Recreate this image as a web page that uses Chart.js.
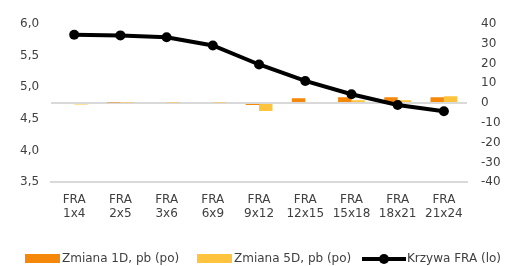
<!DOCTYPE html>
<html>
<head>
<meta charset="utf-8">
<script src="https://cdn.jsdelivr.net/npm/chart.js@4/dist/chart.umd.min.js"></script>
<style>
  html, body { margin: 0; padding: 0; background: #fff; }
  #wrap { position: relative; width: 514px; height: 266px; }
  #legend { position: absolute; left: 0; top: 250px; width: 514px; height: 16px;
    font: 12px 'DejaVu Sans', sans-serif; color: #404040; }
  .item { position: absolute; top: 0; white-space: nowrap; line-height: 16px; }
  .box { display: inline-block; width: 35px; height: 9px; vertical-align: -1px; margin-right: 2px; }
  .ln { display: inline-block; position: relative; width: 44px; height: 9px; vertical-align: -1px; margin-right: 1px; }
  .ln:before { content: ''; position: absolute; left: 0; right: 0; top: 3px; height: 4px; background: #000; }
  .ln:after { content: ''; position: absolute; left: 17px; top: 0; width: 10px; height: 10px; border-radius: 50%; background: #000; }
</style>
</head>
<body>
<div id="wrap">
  <canvas id="fraChart" width="514" height="266"></canvas>
  <div id="legend">
    <span class="item" style="left:25px"><span class="box" style="background:#F5870A"></span>Zmiana 1D, pb (po)</span>
    <span class="item" style="left:197px"><span class="box" style="background:#FFC33D"></span>Zmiana 5D, pb (po)</span>
    <span class="item" style="left:362px"><span class="ln"></span>Krzywa FRA (lo)</span>
  </div>
</div>
<script>
// Dane wykresu
const categories = ['1x4', '2x5', '3x6', '6x9', '9x12', '12x15', '15x18', '18x21', '21x24'];
const change1D = [0.5, 0.3, 0, 0, -1, 2.5, 3, 3, 3];
const change5D = [-0.7, 0.3, 0.3, 0.3, -4, 0.5, 1.5, 1.5, 3.5];
const fraCurve = [5.83, 5.82, 5.79, 5.66, 5.36, 5.10, 4.89, 4.72, 4.62];
const leftTicks = [3.5, 4.0, 4.5, 5.0, 5.5, 6.0];
const rightTicks = [-40, -30, -20, -10, 0, 10, 20, 30, 40];

document.addEventListener('DOMContentLoaded', function() {
  Chart.defaults.font.family = "'DejaVu Sans', sans-serif";
  Chart.defaults.font.size = 12;
  Chart.defaults.color = '#404040';

  const ctx = document.getElementById('fraChart');
  new Chart(ctx, {
    data: {
      labels: categories.map(c => ['FRA', c]),
      datasets: [
        {
          type: 'line',
          label: 'Krzywa FRA (lo)',
          data: fraCurve,
          yAxisID: 'y',
          borderColor: '#000',
          backgroundColor: '#000',
          borderWidth: 4,
          pointRadius: 5,
          pointBackgroundColor: '#000',
          pointBorderWidth: 0,
          tension: 0,
          order: 0
        },
        {
          type: 'bar',
          label: 'Zmiana 1D, pb (po)',
          data: change1D,
          yAxisID: 'y1',
          backgroundColor: '#F5870A',
          categoryPercentage: 0.58,
          barPercentage: 1,
          order: 1
        },
        {
          type: 'bar',
          label: 'Zmiana 5D, pb (po)',
          data: change5D,
          yAxisID: 'y1',
          backgroundColor: '#FFC33D',
          categoryPercentage: 0.58,
          barPercentage: 1,
          order: 1
        }
      ]
    },
    options: {
      responsive: false,
      animation: false,
      layout: { padding: { left: 8, right: 0, top: 24, bottom: 35 } },
      plugins: {
        legend: { display: false },
        tooltip: { enabled: false }
      },
      scales: {
        x: {
          grid: { display: false, drawTicks: false },
          border: { color: '#d9d9d9', width: 2 },
          ticks: { padding: 10, maxRotation: 0, autoSkip: false }
        },
        y: {
          position: 'left',
          min: leftTicks[0],
          max: leftTicks[leftTicks.length - 1],
          afterBuildTicks: function(axis) {
            axis.ticks = leftTicks.map(v => ({ value: v }));
          },
          grid: { display: false, drawTicks: false },
          border: { display: false },
          ticks: {
            padding: 12,
            callback: function(value) {
              return value.toFixed(1).replace('.', ',');
            }
          }
        },
        y1: {
          position: 'right',
          min: rightTicks[0],
          max: rightTicks[rightTicks.length - 1],
          afterBuildTicks: function(axis) {
            axis.ticks = rightTicks.map(v => ({ value: v }));
          },
          afterFit: function(axis) {
            axis.width = 47;
          },
          grid: {
            drawTicks: false,
            lineWidth: 2,
            color: function(c) {
              return c.tick && c.tick.value === 0 ? '#d9d9d9' : 'rgba(0,0,0,0)';
            }
          },
          border: { display: false },
          ticks: { padding: 14 }
        }
      }
    }
  });
});
</script>
</body>
</html>
